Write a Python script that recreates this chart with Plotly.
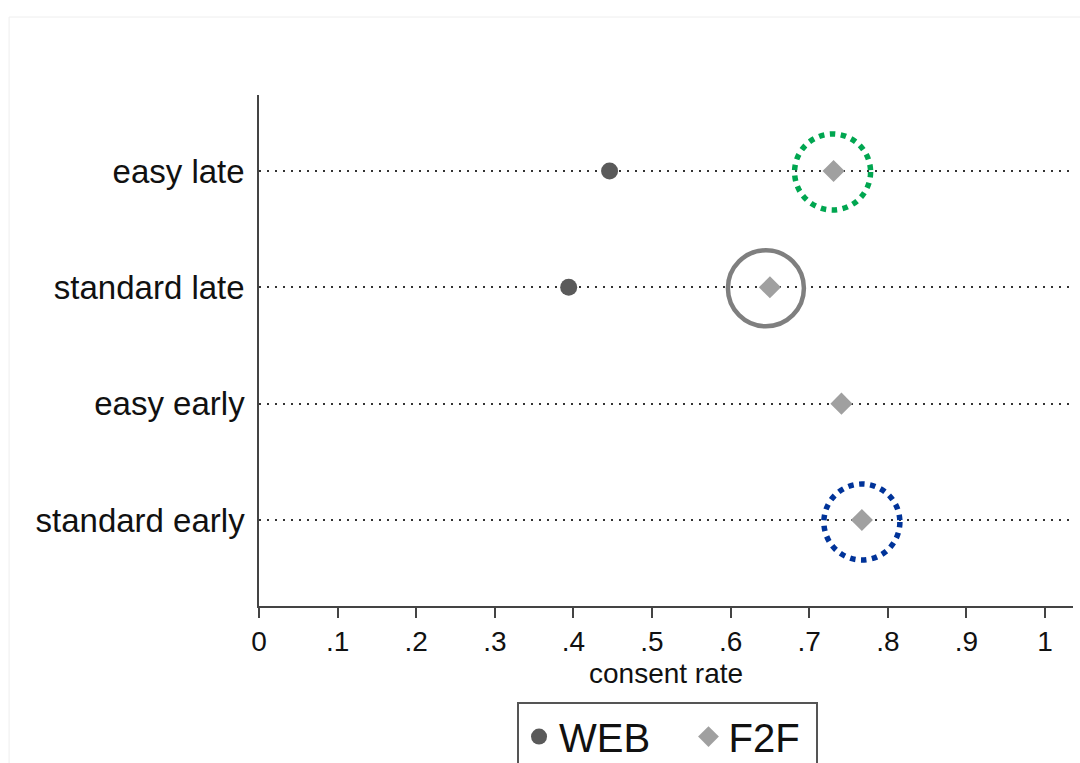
import plotly.graph_objects as go

# ---- data ----
categories = ["standard early", "easy early", "standard late", "easy late"]
cat_pos = [1, 2, 3, 4]
web_rate = [None, None, 0.394, 0.446]
f2f_rate = [0.767, 0.741, 0.650, 0.731]
x_ticks = [0, 0.1, 0.2, 0.3, 0.4, 0.5, 0.6, 0.7, 0.8, 0.9, 1.0]
x_ticktext = ["0", ".1", ".2", ".3", ".4", ".5", ".6", ".7", ".8", ".9", "1"]
x_title = "consent rate"
series_names = ["WEB", "F2F"]
# highlighted F2F points: (row index, colour, dash, width, dx px, dy px)
highlights = [
    (3, "#00a650", "5.5px,5.5px", 5.5, -1, 1),
    (2, "#7f7f7f", "solid", 4.5, -4, 1),
    (0, "#003399", "5.5px,5.5px", 5.5, 0, 2),
]

FONT = "Liberation Sans, Arial, sans-serif"
NB = "\u00a0"

fig = go.Figure()
fig.add_trace(go.Scatter(
    x=web_rate, y=cat_pos, mode="markers", name=series_names[0] + NB * 3,
    marker=dict(symbol="circle", size=17, color="#5a5a5a"),
))
fig.add_trace(go.Scatter(
    x=f2f_rate, y=cat_pos, mode="markers", name=series_names[1] + NB,
    marker=dict(symbol="diamond", size=17, color="#a0a0a0"),
))

shapes = []
R = 38
for idx, col, dash, w, dx, dy in highlights:
    shapes.append(dict(
        type="circle", xref="x", yref="y",
        xsizemode="pixel", ysizemode="pixel",
        xanchor=f2f_rate[idx], yanchor=cat_pos[idx],
        x0=dx - R, x1=dx + R, y0=-dy - R, y1=-dy + R,
        line=dict(color=col, width=w, dash=dash),
        layer="above",
    ))
# faint outer frame
shapes.append(dict(type="rect", xref="paper", yref="paper",
                   x0=-0.307, x1=1.2, y0=-0.5, y1=1.1526,
                   line=dict(color="#eeeeee", width=1), layer="below"))

fig.update_layout(
    width=1080, height=763,
    margin=dict(l=259, r=7, t=95, b=157, autoexpand=False),
    paper_bgcolor="white", plot_bgcolor="white",
    font=dict(family=FONT, color="#111111"),
    shapes=shapes,
    annotations=[dict(
        text=x_title, xref="paper", yref="paper", x=0.5, y=-0.133,
        xanchor="center", yanchor="middle", showarrow=False,
        font=dict(size=28, family=FONT, color="#111111"),
    )],
    showlegend=True,
    legend=dict(
        orientation="h", x=0.317, xanchor="left", y=-0.188, yanchor="top",
        font=dict(size=40, family=FONT, color="#111111"),
        bordercolor="#555555", borderwidth=2, bgcolor="white",
    ),
    xaxis=dict(
        range=[0, 1.0356], tickvals=x_ticks, ticktext=x_ticktext,
        ticks="outside", ticklen=10, tickwidth=1.5, tickcolor="#444444",
        showline=True, linecolor="#444444", linewidth=1.5,
        showgrid=False, zeroline=False,
        tickfont=dict(size=28, family=FONT, color="#111111"),
    ),
    yaxis=dict(
        range=[0.261, 4.653], tickvals=cat_pos, ticktext=categories,
        ticks="", showline=True, linecolor="#444444", linewidth=1.5,
        showgrid=True, gridcolor="#333333", gridwidth=1.8, griddash="2px,6px",
        zeroline=False, ticklabelstandoff=6,
        tickfont=dict(size=33, family=FONT, color="#111111"),
    ),
)

fig.write_html("out.html")
